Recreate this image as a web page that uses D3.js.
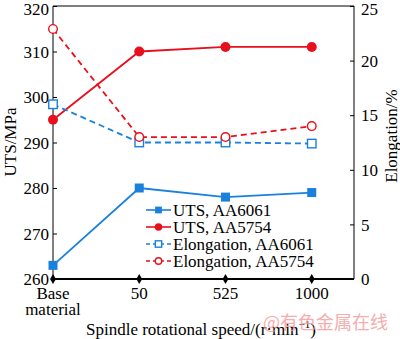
<!DOCTYPE html>
<html>
<head>
<meta charset="utf-8">
<script src="https://cdn.jsdelivr.net/npm/d3@7.9.0/dist/d3.min.js"></script>
<style>
  body { margin: 0; background: #fff; }
</style>
</head>
<body>
<svg id="chart" width="400" height="339"></svg>
<script>
// data
const categories = ['Base material', '50', '525', '1000'];
const utsAA6061 = [263, 280, 278, 279];
const utsAA5754 = [295, 310, 311, 311];
const elongAA6061 = [16.0, 12.5, 12.5, 12.4];
const elongAA5754 = [22.9, 13.0, 13.0, 14.0];
const utsTicks = [260, 270, 280, 290, 300, 310, 320];
const elongTicks = [0, 5, 10, 15, 20, 25];

const blue = '#1a80de';
const red = '#e8101c';
const serif = 'Liberation Serif';
const fs = 17;

const margin = { left: 53, right: 354, top: 6, bottom: 279 };
const svg = d3.select('#chart');

const x = d3.scaleLinear().domain([0, 3.49]).range([margin.left, margin.right]);
const yL = d3.scaleLinear().domain([260, 320]).range([margin.bottom, margin.top]);
const yR = d3.scaleLinear().domain([0, 25]).range([margin.bottom, margin.top]);

// frame
const frame = svg.append('g').attr('stroke', '#000').attr('stroke-width', 1);
frame.append('line').attr('x1', margin.left).attr('x2', margin.right).attr('y1', margin.top).attr('y2', margin.top);
frame.append('line').attr('x1', margin.left).attr('x2', margin.left).attr('y1', margin.top).attr('y2', margin.bottom);
frame.append('line').attr('x1', margin.right).attr('x2', margin.right).attr('y1', margin.top).attr('y2', margin.bottom);

// left axis, ticks point inward
const leftAxis = svg.append('g')
  .attr('transform', `translate(${margin.left},0)`)
  .call(d3.axisRight(yL).tickValues(utsTicks).tickSize(4).tickFormat(d3.format('d')));
leftAxis.select('.domain').remove();
leftAxis.selectAll('line').attr('stroke', '#000');
leftAxis.selectAll('text')
  .attr('x', -4).attr('text-anchor', 'end').attr('dy', '0.34em')
  .attr('font-size', fs).attr('fill', '#000');
leftAxis.selectAll('.tick').filter(d => d === 320).select('text').attr('dy', '0.5em');

// right axis, ticks point inward
const rightAxis = svg.append('g')
  .attr('transform', `translate(${margin.right},0)`)
  .call(d3.axisLeft(yR).tickValues(elongTicks).tickSize(4));
rightAxis.select('.domain').remove();
rightAxis.selectAll('line').attr('stroke', '#000');
rightAxis.selectAll('text')
  .attr('x', 7).attr('text-anchor', 'start').attr('dy', '0.34em')
  .attr('font-size', fs).attr('fill', '#000');
rightAxis.selectAll('.tick').filter(d => d === 25).select('text').attr('dy', '0.5em');

// bottom axis: thick line with diamonds
svg.append('line')
  .attr('x1', margin.left).attr('x2', margin.right)
  .attr('y1', margin.bottom).attr('y2', margin.bottom)
  .attr('stroke', '#000').attr('stroke-width', 2.2);
svg.selectAll('.diam').data(categories).join('path')
  .attr('d', d3.symbol().type(d3.symbolDiamond).size(30))
  .attr('transform', (d, i) => `translate(${x(i)},${margin.bottom})`)
  .attr('fill', '#000');

const xLabels = svg.append('g').attr('font-size', fs).attr('text-anchor', 'middle');
categories.forEach((c, i) => {
  const t = xLabels.append('text').attr('x', x(i)).attr('y', 299);
  if (c === 'Base material') {
    t.append('tspan').attr('x', x(i)).attr('dy', 0).text('Base');
    t.append('tspan').attr('x', x(i)).attr('dy', 15.5).text('material');
  } else {
    t.text(c);
  }
});

// axis titles
svg.append('text')
  .attr('transform', 'translate(16,142) rotate(-90)')
  .attr('text-anchor', 'middle').attr('font-size', fs).text('UTS/MPa');
svg.append('text')
  .attr('transform', 'translate(397,136) rotate(-90)')
  .attr('text-anchor', 'middle').attr('font-size', fs).text('Elongation/%');

const xt = svg.append('text').attr('x', 86).attr('y', 335).attr('font-size', fs);
xt.append('tspan').text('Spindle rotational speed/(r·min');
xt.append('tspan').attr('dy', -7).attr('font-size', 11).text('−1');
xt.append('tspan').attr('dy', 7).text(')');

// series
const series = [
  { name: 'UTS, AA6061', values: utsAA6061, y: yL, color: blue, dash: null, marker: 'square', fill: true },
  { name: 'UTS, AA5754', values: utsAA5754, y: yL, color: red, dash: null, marker: 'circle', fill: true },
  { name: 'Elongation, AA6061', values: elongAA6061, y: yR, color: blue, dash: '6,4', marker: 'square', fill: false },
  { name: 'Elongation, AA5754', values: elongAA5754, y: yR, color: red, dash: '6,4', marker: 'circle', fill: false }
];

function drawMarker(g, s, cx, cy, small) {
  const k = small ? 0.75 : 1;
  if (s.marker === 'square') {
    const w = (s.fill ? 9 : 8.5) * k;
    g.append('rect')
      .attr('x', cx - w / 2).attr('y', cy - w / 2).attr('width', w).attr('height', w)
      .attr('fill', s.fill ? s.color : '#fff').attr('stroke', s.color).attr('stroke-width', s.fill ? 0 : 1.4);
  } else {
    g.append('circle')
      .attr('cx', cx).attr('cy', cy).attr('r', (s.fill ? 5 : 4.3) * k)
      .attr('fill', s.fill ? s.color : '#fff').attr('stroke', s.color).attr('stroke-width', s.fill ? 0 : 1.4);
  }
}

series.forEach(s => {
  const line = d3.line().x((d, i) => x(i)).y(d => s.y(d));
  svg.append('path')
    .datum(s.values)
    .attr('d', line)
    .attr('fill', 'none')
    .attr('stroke', s.color)
    .attr('stroke-width', 1.8)
    .attr('stroke-dasharray', s.dash);
  const g = svg.append('g');
  s.values.forEach((v, i) => drawMarker(g, s, x(i), s.y(v), false));
});

// legend
const legend = svg.append('g').attr('font-size', fs);
series.forEach((s, i) => {
  const ly = 210 + i * 17;
  legend.append('line')
    .attr('x1', 146).attr('x2', 171).attr('y1', ly).attr('y2', ly)
    .attr('stroke', s.color).attr('stroke-width', 1.6)
    .attr('stroke-dasharray', s.dash ? '4,3' : null);
  drawMarker(legend, s, 158.5, ly, true);
  legend.append('text').attr('x', 173).attr('y', ly + 5.5).text(s.name);
});

// everything in serif, then the watermark
svg.selectAll('text').attr('font-family', serif);
svg.selectAll('g').attr('font-family', serif);

svg.append('text')
  .attr('x', 263).attr('y', 329)
  .attr('font-family', 'Noto Sans CJK SC').attr('font-size', 18)
  .attr('fill', '#f29a9a').attr('opacity', 0.8)
  .text('@有色金属在线');
</script>
</body>
</html>
